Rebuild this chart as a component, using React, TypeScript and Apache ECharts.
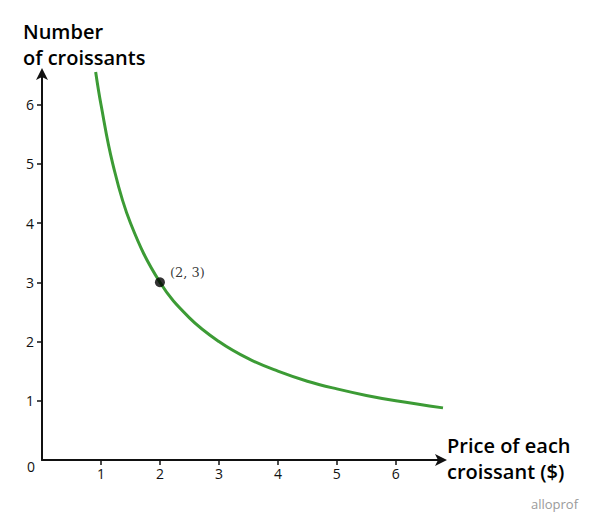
import React, { useEffect, useRef } from 'react';
import * as echarts from 'echarts';

// Curve points (price $, number of croissants)
const curvePrices = [0.91, 1, 1.2, 1.5, 2, 2.5, 3, 3.5, 4, 4.5, 5, 5.5, 6, 6.8];
const curveCounts = [6.55, 6, 5, 4, 3, 2.4, 2, 1.71, 1.5, 1.33, 1.2, 1.09, 1, 0.88];

// Highlighted point
const markedPoint = [2, 3];
const markedLabel = '(2, 3)';

// Tick values
const xTicks = [1, 2, 3, 4, 5, 6];
const yTicks = [1, 2, 3, 4, 5, 6];

const yTitle = 'Number\nof croissants';
const xTitle = 'Price of each\ncroissant ($)';

const FONT = '"Open Sans", Lato, sans-serif';

const App: React.FC = () => {
  const chartRef = useRef<HTMLDivElement>(null);

  useEffect(() => {
    if (!chartRef.current) return;
    const chart = echarts.init(chartRef.current, undefined, { renderer: 'svg' });

    const axisLine = { show: true, lineStyle: { color: '#111', width: 2 } };

    const option: echarts.EChartsOption = {
      animation: false,
      backgroundColor: '#fff',
      grid: { left: 42, top: 72, width: 401, height: 388 },
      xAxis: {
        type: 'value',
        min: 0,
        max: 6.8,
        interval: 1,
        axisLine: { ...axisLine, symbol: ['none', 'arrow'], symbolSize: [9, 12], symbolOffset: [0, 4] },
        axisTick: { show: true, customValues: xTicks, length: 5, lineStyle: { color: '#111', width: 1.5 } },
        axisLabel: { customValues: xTicks, color: '#111', fontSize: 14, fontFamily: FONT, margin: 6 },
        splitLine: { show: false },
      },
      yAxis: {
        type: 'value',
        min: 0,
        max: 6.55,
        interval: 1,
        axisLine: { ...axisLine, symbol: ['none', 'arrow'], symbolSize: [9, 12], symbolOffset: [0, 4] },
        axisTick: { show: true, customValues: yTicks, length: 5, lineStyle: { color: '#111', width: 1.5 } },
        axisLabel: { customValues: yTicks, color: '#111', fontSize: 14, fontFamily: FONT, margin: 8 },
        splitLine: { show: false },
      },
      series: [
        {
          type: 'line',
          data: curvePrices.map((p, i) => [p, curveCounts[i]]),
          smooth: 0.4,
          showSymbol: false,
          clip: false,
          lineStyle: { color: '#3c9b35', width: 3 },
          z: 2,
        },
        {
          type: 'scatter',
          data: [markedPoint],
          symbolSize: 10,
          itemStyle: { color: '#000' },
          label: {
            show: true,
            position: 'right',
            offset: [0, -10],
            formatter: markedLabel,
            fontFamily: '"DejaVu Serif", "Liberation Serif", serif',
            fontSize: 13,
            color: '#000',
          },
          z: 3,
        },
      ],
      graphic: [
        {
          type: 'text',
          left: 23,
          top: 18,
          style: { text: yTitle, fontFamily: FONT, fontWeight: 600, fontSize: 20, lineHeight: 26, fill: '#000' },
        },
        {
          type: 'text',
          left: 447,
          top: 432,
          style: { text: xTitle, fontFamily: FONT, fontWeight: 600, fontSize: 20, lineHeight: 26, fill: '#000' },
        },
        {
          type: 'text',
          left: 27,
          top: 459,
          style: { text: '0', fontFamily: FONT, fontSize: 14, fill: '#111' },
        },
        {
          type: 'text',
          right: 22,
          top: 497,
          style: { text: 'alloprof', fontFamily: FONT, fontSize: 13, fill: '#9a9a9a' },
        },
      ],
    };

    chart.setOption(option);
    return () => {
      chart.dispose();
    };
  }, []);

  return <div ref={chartRef} style={{ width: 600, height: 529, margin: -8 }} />;
};

export default App;
